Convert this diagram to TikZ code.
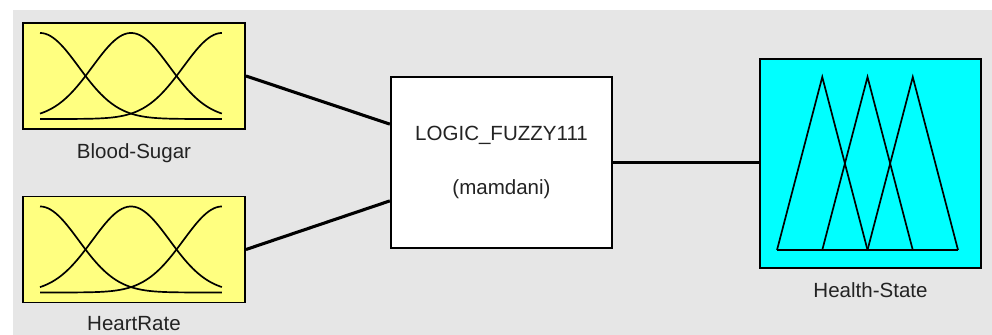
\documentclass[tikz,border=0pt]{standalone}
\usepackage{fontspec}
\setmainfont{Liberation Sans}
\usepackage{tikz}
\usetikzlibrary{positioning}
\definecolor{panelgray}{RGB}{230,230,230}
\definecolor{mfyellow}{RGB}{255,255,128}
\definecolor{mfcyan}{RGB}{0,255,255}
\definecolor{labeltext}{RGB}{35,35,35}
\tikzstyle{inputmf} = [rectangle, minimum width=5.55cm, minimum height=2.65cm, draw=black, line width=1.4pt, fill=mfyellow]
\tikzstyle{outputmf} = [rectangle, minimum width=5.525cm, minimum height=5.225cm, draw=black, line width=1.4pt, fill=mfcyan]
\tikzstyle{system} = [rectangle, minimum width=5.525cm, minimum height=4.275cm, draw=black, line width=1.7pt, fill=white, align=center, text=labeltext, font=\fontsize{14.6}{17}\selectfont]
\tikzstyle{varname} = [text=labeltext, font=\fontsize{14.6}{17}\selectfont]
\tikzstyle{wire} = [line width=2.2pt, black]
\tikzstyle{mfcurve} = [line width=1.2pt, black]
% three gaussian sets inside an input box
\newcommand{\gaussmfs}[1]{%
  \begin{scope}[shift={(#1.south west)}, xshift=0.45cm, yshift=0.275cm, x=4.55cm, y=2.15cm]
    \foreach \c in {0,0.5,1}
      \draw [mfcurve] plot[domain=0:1, samples=70, smooth] (\x, {exp(-((\x-\c)^2)/(2*0.0451))});
  \end{scope}}
% three triangle sets inside the output box
\newcommand{\trimfs}[1]{%
  \begin{scope}[shift={(#1.south west)}, xshift=0.45cm, yshift=0.475cm, x=1.13125cm, y=4.325cm]
    \foreach \k in {0,1,2}
      \draw [mfcurve] (\k,0) -- (\k+1,1) -- (\k+2,0);
    \draw [mfcurve] (0,0) -- (4,0);
  \end{scope}}

\begin{document}
\begin{tikzpicture}[node distance=4.3375cm]
\useasboundingbox (0,0) rectangle (24.8,-8.375);
\fill [panelgray] (0.325,-0.25) rectangle (24.8,-8.375);

\node (blood) [inputmf] at (3.35,-1.9) {};
\node (heart) [inputmf, below of=blood] {};
\node (fis) [system] at (12.5375,-4.0625) {LOGIC\_FUZZY111\\[22pt](mamdani)};
\node (health) [outputmf] at (21.7625,-4.0875) {};

\gaussmfs{blood}
\gaussmfs{heart}
\trimfs{health}

\node (bloodname) [varname, below of=blood, node distance=1.925cm] {Blood-Sugar};
\node (heartname) [varname, below of=heart, node distance=1.84cm] {HeartRate};
\node (healthname) [varname, below of=health, node distance=3.16cm] {Health-State};

\draw [wire] (blood.east) -- ([yshift=0.96cm]fis.west);
\draw [wire] (heart.east) -- ([yshift=-0.96cm]fis.west);
\draw [wire] (fis.east) -- (fis.east -| health.west);
\end{tikzpicture}
\end{document}
